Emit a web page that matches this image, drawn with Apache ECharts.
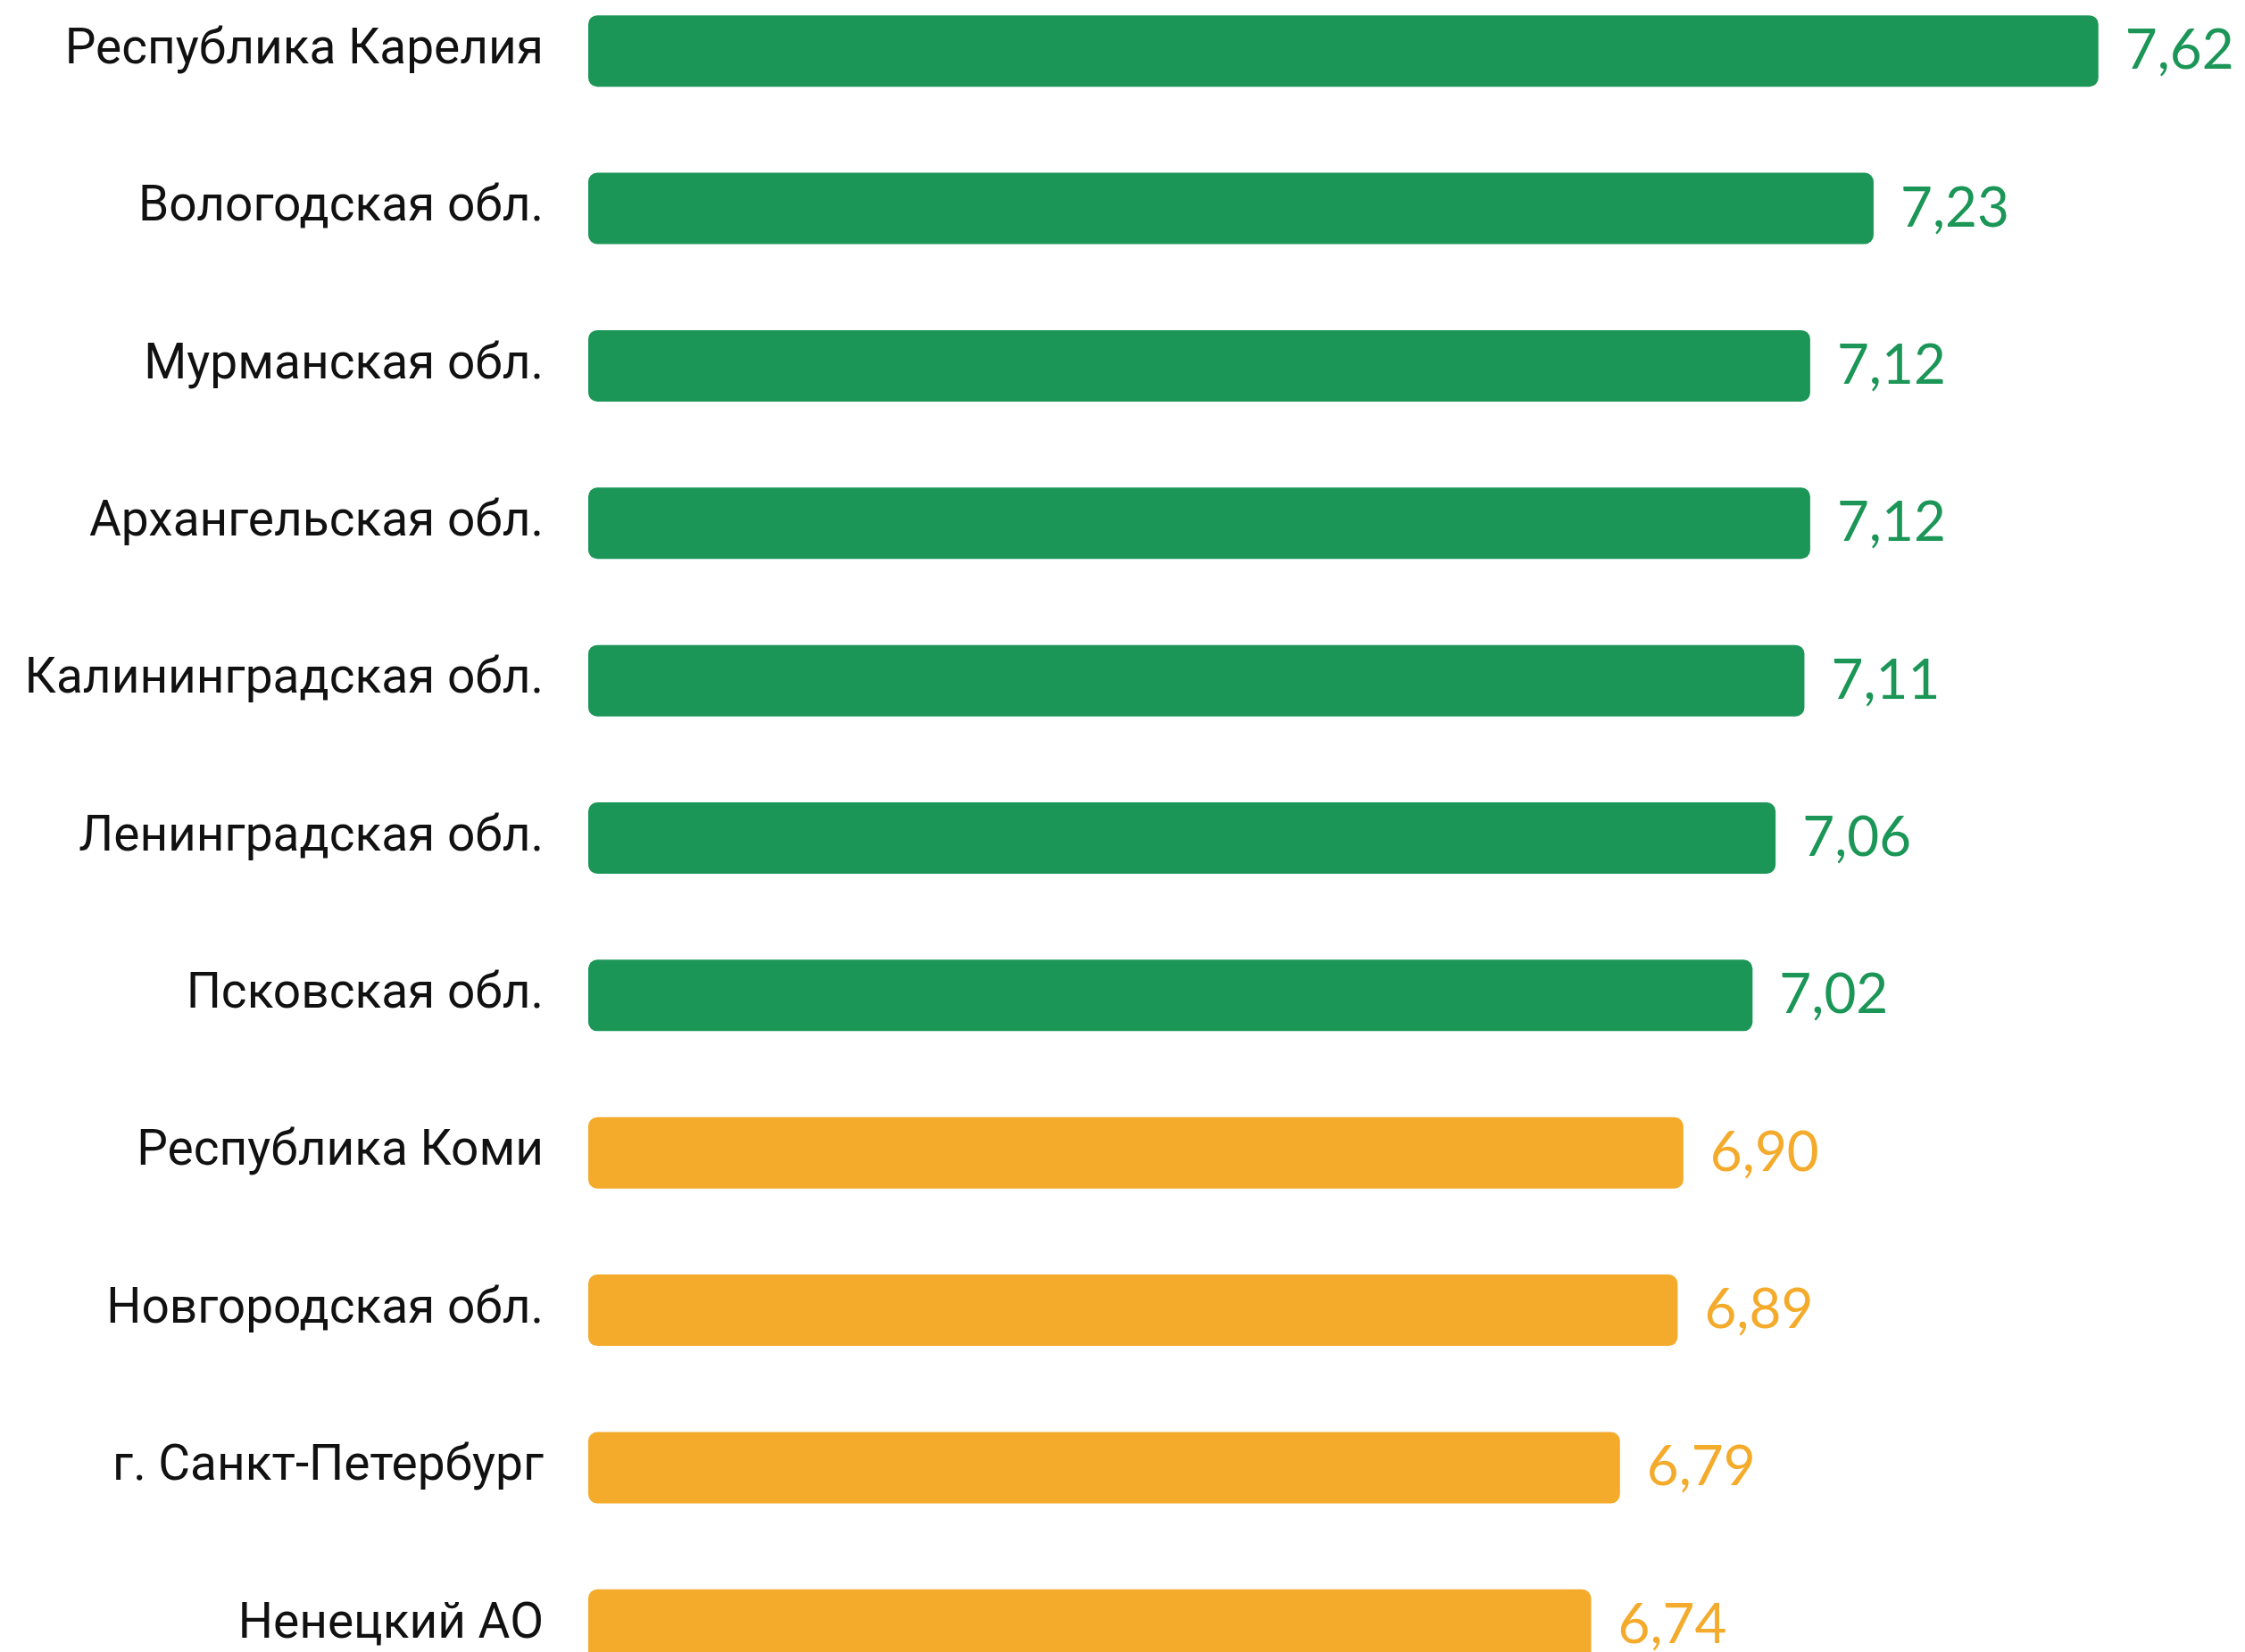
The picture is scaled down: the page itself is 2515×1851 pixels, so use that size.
<!DOCTYPE html>
<html>
<head>
<meta charset="utf-8">
<script src="https://cdn.jsdelivr.net/npm/echarts@6/dist/echarts.min.js"></script>
<style>
  html, body { margin: 0; padding: 0; background: #fff; overflow: hidden; }
  /* the source picture is cropped: first band starts above the top edge */
  #chart { position: absolute; left: 0; top: -31px; width: 2515px; height: 1960px; }
</style>
</head>
<body>
<div id="chart"></div>
<script>
// Regions and their scores (top to bottom)
const regions = [
    'Республика Карелия',
    'Вологодская обл.',
    'Мурманская обл.',
    'Архангельская обл.',
    'Калининградская обл.',
    'Ленинградская обл.',
    'Псковская обл.',
    'Республика Коми',
    'Новгородская обл.',
    'г. Санкт-Петербург',
    'Ненецкий АО'
];
const scores = [7.62, 7.23, 7.12, 7.12, 7.11, 7.06, 7.02, 6.90, 6.89, 6.79, 6.74];

const GREEN = '#1b9657';
const ORANGE = '#f4ab2c';

function colorFor(v) {
    return v >= 7 ? GREEN : ORANGE;
}

const chart = echarts.init(document.getElementById('chart'));

const option = {
    backgroundColor: '#fff',
    animation: false,
    grid: {
        left: 659,
        right: 48,
        top: 0,
        height: 1940
    },
    xAxis: {
        type: 'value',
        min: 5,
        max: 7.8,
        show: false
    },
    yAxis: {
        type: 'category',
        data: regions,
        inverse: true,
        axisLine: { show: false },
        axisTick: { show: false },
        splitLine: { show: false },
        axisLabel: {
            margin: 50,
            fontFamily: 'Roboto',
            fontSize: 55,
            color: '#111'
        }
    },
    series: [{
        type: 'bar',
        barWidth: 80,
        data: scores.map(v => ({
            value: v,
            itemStyle: { color: colorFor(v), borderRadius: 10 },
            label: { color: colorFor(v) }
        })),
        label: {
            show: true,
            position: 'right',
            distance: 30,
            fontFamily: 'Lato',
            fontSize: 62,
            formatter: p => p.value.toFixed(2).replace('.', ',')
        }
    }]
};

chart.setOption(option);

window.addEventListener('resize', () => {
    chart.resize();
});
</script>
</body>
</html>
